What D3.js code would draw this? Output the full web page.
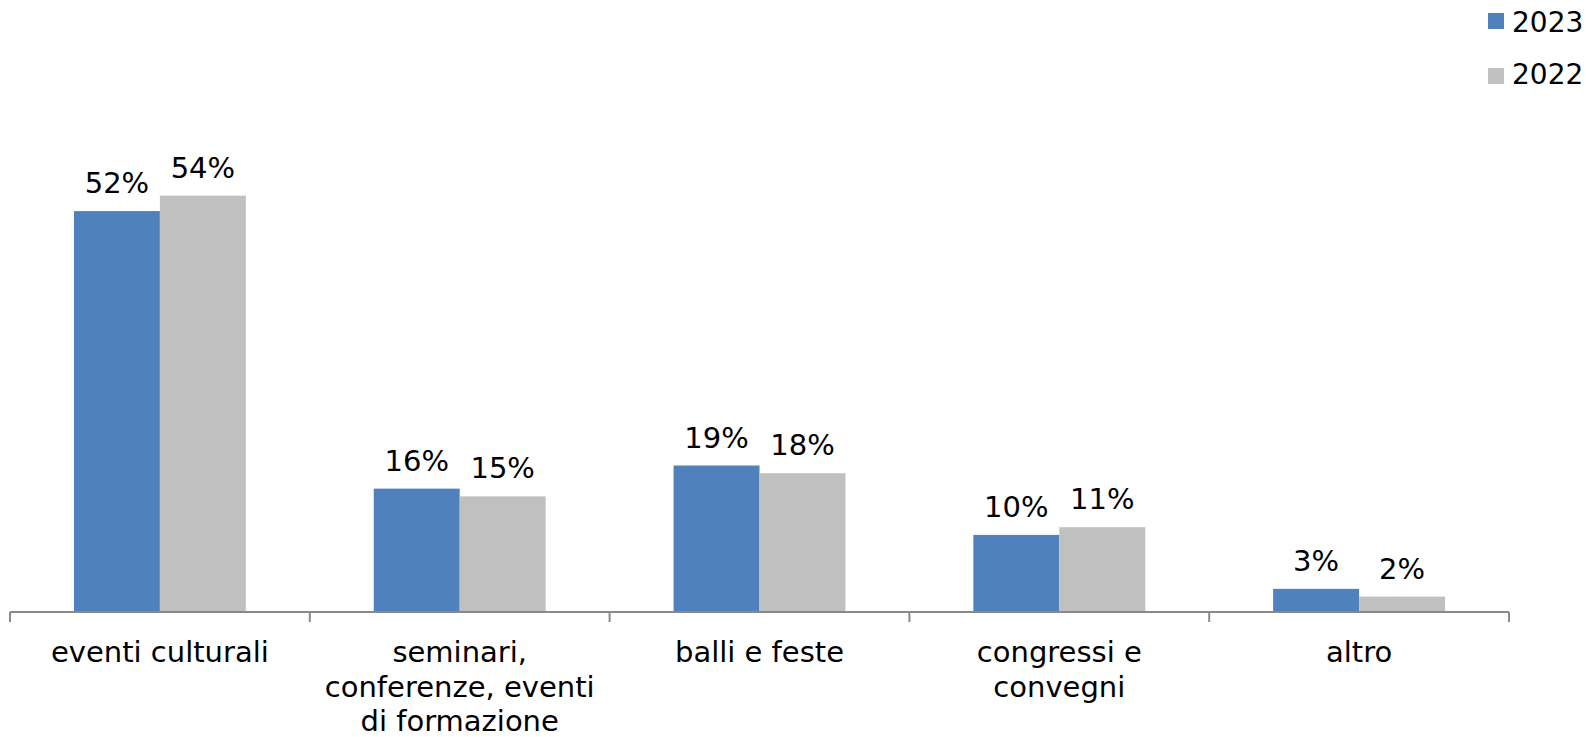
<!DOCTYPE html>
<html><head><meta charset="utf-8">
<script src="https://cdn.jsdelivr.net/npm/d3@7"></script>
<style>
html,body{margin:0;padding:0;background:#fff;}
svg{display:block;font-family:"DejaVu Sans",Verdana,sans-serif;}
</style></head>
<body>
<svg id="chart" width="1586" height="737"></svg>
<script>
const categories = [
  ["eventi culturali"],
  ["seminari,", "conferenze, eventi", "di formazione"],
  ["balli e feste"],
  ["congressi e", "convegni"],
  ["altro"]
];
const catKeys = ["eventi culturali", "seminari, conferenze, eventi di formazione", "balli e feste", "congressi e convegni", "altro"];
const seriesNames = ["2023", "2022"];
const values2023 = [52, 16, 19, 10, 3];
const values2022 = [54, 15, 18, 11, 2];
const valueLabels2023 = ["52%", "16%", "19%", "10%", "3%"];
const valueLabels2022 = ["54%", "15%", "18%", "11%", "2%"];
const colors = ["#4F81BD", "#C0C0C0"];

const FS = 29;
const svg = d3.select("#chart");
const baseY = 612;
const y = d3.scaleLinear().domain([0, 60]).range([baseY, baseY - 60 * 7.71]);
const x0 = d3.scaleBand().domain(catKeys).range([10, 1509]).padding(0);
const bw = x0.bandwidth();
const x1 = d3.scaleBand().domain(seriesNames).range([bw * 0.2133, bw * (1 - 0.2133)]).padding(0);

const seriesData = [
  {name: "2023", values: values2023, labels: valueLabels2023, color: colors[0]},
  {name: "2022", values: values2022, labels: valueLabels2022, color: colors[1]}
];

seriesData.forEach(s => {
  const g = svg.append("g");
  g.selectAll("rect").data(s.values).join("rect")
    .attr("x", (d, i) => x0(catKeys[i]) + x1(s.name))
    .attr("y", d => y(d))
    .attr("width", x1.bandwidth())
    .attr("height", d => baseY - y(d))
    .attr("fill", s.color);
  g.selectAll("text").data(s.values).join("text")
    .attr("x", (d, i) => x0(catKeys[i]) + x1(s.name) + x1.bandwidth() / 2)
    .attr("y", d => y(d) - 18)
    .attr("text-anchor", "middle")
    .attr("font-size", FS)
    .attr("fill", "#000")
    .text((d, i) => s.labels[i]);
});

// axis
const axis = d3.axisBottom(x0).tickSize(0).tickFormat("");
const ax = svg.append("g").attr("transform", `translate(0,${baseY})`).call(axis);
ax.select(".domain").attr("stroke", "#898989").attr("stroke-width", 2).attr("d", `M10,0H1509`);
const tickPos = catKeys.map(k => x0(k)).concat([x0(catKeys[catKeys.length - 1]) + bw]);
ax.selectAll(".sep").data(tickPos).join("line")
  .attr("class", "sep")
  .attr("x1", d => d).attr("x2", d => d)
  .attr("y1", 0).attr("y2", 10)
  .attr("stroke", "#898989").attr("stroke-width", 2);

// category labels
categories.forEach((lines, i) => {
  const t = svg.append("text")
    .attr("text-anchor", "middle")
    .attr("font-size", FS)
    .attr("fill", "#000");
  lines.forEach((ln, j) => {
    t.append("tspan")
      .attr("x", x0(catKeys[i]) + bw / 2)
      .attr("y", 662 + j * 34.5)
      .text(ln);
  });
});

// legend
const legend = svg.append("g");
seriesData.forEach((s, i) => {
  legend.append("rect")
    .attr("x", 1488).attr("y", 13 + i * 55)
    .attr("width", 16).attr("height", 16)
    .attr("fill", s.color);
  legend.append("text")
    .attr("x", 1512).attr("y", 32 + i * 52)
    .attr("font-size", 28)
    .attr("fill", "#000")
    .text(s.name);
});
</script>
</body></html>
